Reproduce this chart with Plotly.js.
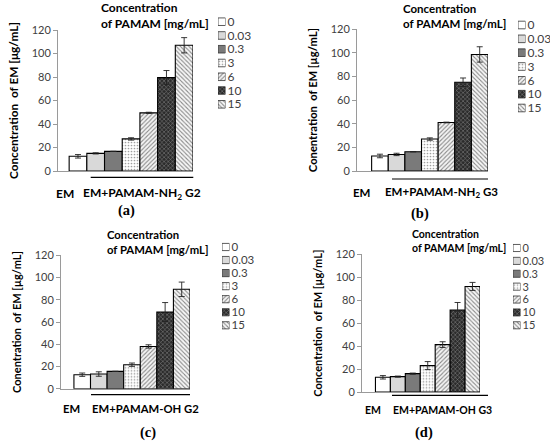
<!DOCTYPE html>
<html>
<head>
<meta charset="utf-8">
<script src="https://cdn.plot.ly/plotly-3.0.1.min.js"></script>
<style>html,body{margin:0;padding:0;background:#fff;}#chart{width:550px;height:444px;}</style>
</head>
<body>
<div id="chart"></div>
<script>
// ---- data ----
const concentrations = ['0', '0.03', '0.3', '3', '6', '10', '15'];
const meansA = [12.5, 15, 16.7, 27.3, 49.5, 79.5, 107];
const errA   = [1.5, 0.5, 0, 1, 0.5, 6, 6.5];
const meansB = [12.7, 14, 16.3, 27, 41, 75, 98.5];
const errB   = [1.5, 1, 0, 1, 0.3, 3.6, 6.5];
const meansC = [12.6, 13.2, 15.6, 21.6, 38, 69, 89.4];
const errC   = [1.5, 2, 0, 1.5, 1.5, 8.5, 6.5];
const meansD = [12.8, 13.4, 16, 23, 41.3, 71.5, 92];
const errD   = [1.5, 0.5, 0.5, 3.5, 2.5, 6.5, 3.5];
const yTitles = ['Concentration\u00a0 of EM [\u03bcg/mL]', 'Conentration\u00a0 of EM [\u00b5g/mL]',
                 'Conentration\u00a0 of EM [\u00b5g/mL]', 'Concentration\u00a0 of EM [\u00b5g/mL]'];
const groupLabels = ['EM+PAMAM-NH<sub>2</sub> G2', 'EM+PAMAM-NH<sub>2</sub> G3', 'EM+PAMAM-OH G2', 'EM+PAMAM-OH G3'];
const controlLabel = 'EM';
const panelLabels = ['(a)', '(b)', '(c)', '(d)'];
const legendTitle = 'Concentration<br>of PAMAM [mg/mL]';
const yTicks = [0, 20, 40, 60, 80, 100, 120];

// ---- styles ----
const styles = [
  {color:'#ffffff', pattern:{shape:''}},
  {color:'#d9d9d9', pattern:{shape:''}},
  {color:'#7a7a7a', pattern:{shape:''}},
  {color:'#ffffff', pattern:{shape:'.', fgcolor:'#a0a0a0', bgcolor:'#ffffff', size:3, solidity:0.25}},
  {color:'#ffffff', pattern:{shape:'/', fgcolor:'#8a8a8a', bgcolor:'#f4f4f4', size:3, solidity:0.35}},
  {color:'#333333', pattern:{shape:'x', fgcolor:'#8a8a8a', bgcolor:'#2b2b2b', size:3, solidity:0.3}},
  {color:'#ffffff', pattern:{shape:'\\', fgcolor:'#8a8a8a', bgcolor:'#f7f7f7', size:3, solidity:0.35}}
];

// ---- layout geometry (pixels) ----
const W = 550, H = 444;
const px = v => v / W, py = v => 1 - v / H;
const geo = [
  {axL:58, axR:193, yT:30, yB:171, gap:0.63, swX:218, swY0:21.7, swY1:104.3, ltX:99, ltY:15.3,
   emR:76, grpL:81, botY:193.3, lineY:177.3, lineX0:90.7, lineX1:193.3, labX:126, labY:211, fs:12, ys:11.8, ls:12},
  {axL:357, axR:488, yT:29, yB:171, gap:0.88, swX:518, swY0:25, swY1:108, ltX:401, ltY:16.3,
   emR:372, grpL:383, botY:192.3, lineY:179, lineX0:392, lineX1:488, labX:420, labY:213, fs:11.5, ys:11.2, ls:12},
  {axL:61, axR:190, yT:255.3, yB:388.7, gap:0.78, swX:222, swY0:247, swY1:325.3, ltX:105, ltY:241.5,
   emR:81.7, grpL:90, botY:408.7, lineY:394.7, lineX0:91, lineX1:190, labX:148, labY:432.7, fs:11.3, ys:11, ls:11.5},
  {axL:362, axR:480, yT:254.3, yB:392, gap:0.9, swX:513, swY0:248, swY1:325.3, ltX:410, ltY:241,
   emR:383, grpL:391, botY:410, lineY:395.3, lineX0:392, lineX1:488, labX:424, labY:432.7, fs:10.5, ys:11, ls:11}
];
const allMeans = [meansA, meansB, meansC, meansD];
const allErrs = [errA, errB, errC, errD];

const FONT = 'Lato, "Open Sans", sans-serif';
const traces = [];
const layout = {
  width: W, height: H, margin:{l:0,r:0,t:0,b:0},
  paper_bgcolor:'#fff', plot_bgcolor:'rgba(0,0,0,0)',
  showlegend:false, barmode:'overlay',
  font:{family:FONT, size:11, color:'#404040'},
  annotations:[], shapes:[]
};

geo.forEach((g, k) => {
  const xa = 'x' + (k + 1), ya = 'y' + (k + 1);
  const sxa = 'x' + (k + 5), sya = 'y' + (k + 5);
  const means = allMeans[k], errs = allErrs[k];
  concentrations.forEach((c, i) => {
    traces.push({
      type:'bar', x:[c], y:[means[i]], xaxis:xa, yaxis:ya, width:1,
      marker:{color:styles[i].color, pattern:styles[i].pattern, line:{color:'#000', width:1.1}},
      error_y:{type:'data', array:[errs[i]], visible:true, color:'#222', thickness:0.9, width:3},
      hoverinfo:'skip'
    });
    traces.push({
      type:'bar', orientation:'h', x:[1], y:[c], xaxis:sxa, yaxis:sya, width:0.55,
      marker:{color:styles[i].color, pattern:styles[i].pattern, line:{color:'#333', width:0.8}},
      hoverinfo:'skip'
    });
  });
  const sfx = k === 0 ? '' : (k + 1);
  layout['xaxis' + sfx] = {
    domain:[px(g.axL), px(g.axR)], anchor:ya, type:'category', categoryorder:'array',
    categoryarray:concentrations, range:[-0.5 - g.gap, 6.5], showticklabels:false, ticks:'',
    showline:true, linecolor:'#9a9a9a', linewidth:1, showgrid:false, zeroline:false, fixedrange:true
  };
  layout['yaxis' + sfx] = {
    domain:[py(g.yB), py(g.yT)], anchor:xa, range:[0, 120], tickmode:'array', tickvals:yTicks,
    ticks:'outside', ticklen:4, tickcolor:'#9a9a9a', showline:true, linecolor:'#9a9a9a', linewidth:1,
    showgrid:false, zeroline:false, tickfont:{family:FONT, size:11, color:'#404040'},
    title:{text:yTitles[k], font:{family:FONT, size:g.ys, color:'#000', weight:'bold'}, standoff:10},
    fixedrange:true
  };
  layout['xaxis' + (k + 5)] = {
    domain:[px(g.swX), px(g.swX + 7.5)], anchor:sya, range:[0, 1], visible:false, fixedrange:true
  };
  const step = (g.swY1 - g.swY0) / 6;
  layout['yaxis' + (k + 5)] = {
    domain:[py(g.swY1 + step / 2), py(g.swY0 - step / 2)], anchor:sxa, type:'category',
    categoryorder:'array', categoryarray:concentrations, range:[6.5, -0.5], side:'right',
    tickmode:'array', tickvals:concentrations, ticktext:concentrations,
    ticks:'', showline:false, showgrid:false, zeroline:false,
    tickfont:{family:FONT, size:g.ls, color:'#404040'}, ticklabelstandoff:1, fixedrange:true
  };
  // legend title
  layout.annotations.push({
    xref:'paper', yref:'paper', x:px(g.ltX), y:py(g.ltY), xanchor:'left', yanchor:'middle',
    align:'left', showarrow:false, text:legendTitle,
    font:{family:FONT, size:g.fs, color:'#000', weight:'bold'}
  });
  // group labels
  layout.annotations.push({
    xref:'paper', yref:'paper', x:px(g.emR), y:py(g.botY), xanchor:'right', yanchor:'middle',
    showarrow:false, text:controlLabel, font:{family:FONT, size:g.fs, color:'#000', weight:'bold'}
  });
  layout.annotations.push({
    xref:'paper', yref:'paper', x:px(g.grpL), y:py(g.botY), xanchor:'left', yanchor:'middle',
    showarrow:false, text:groupLabels[k], font:{family:FONT, size:g.fs, color:'#000', weight:'bold'}
  });
  layout.annotations.push({
    xref:'paper', yref:'paper', x:px(g.labX), y:py(g.labY), xanchor:'center', yanchor:'middle',
    showarrow:false, text:'<b>' + panelLabels[k] + '</b>',
    font:{family:'"Liberation Serif", "DejaVu Serif", serif', size:14.5, color:'#000'}
  });
  layout.shapes.push({
    type:'line', xref:'paper', yref:'paper', x0:px(g.lineX0), x1:px(g.lineX1),
    y0:py(g.lineY), y1:py(g.lineY), line:{color:'#000', width:1.2}
  });
});

Plotly.newPlot('chart', traces, layout, {displayModeBar:false, staticPlot:true});
</script>
</body>
</html>
